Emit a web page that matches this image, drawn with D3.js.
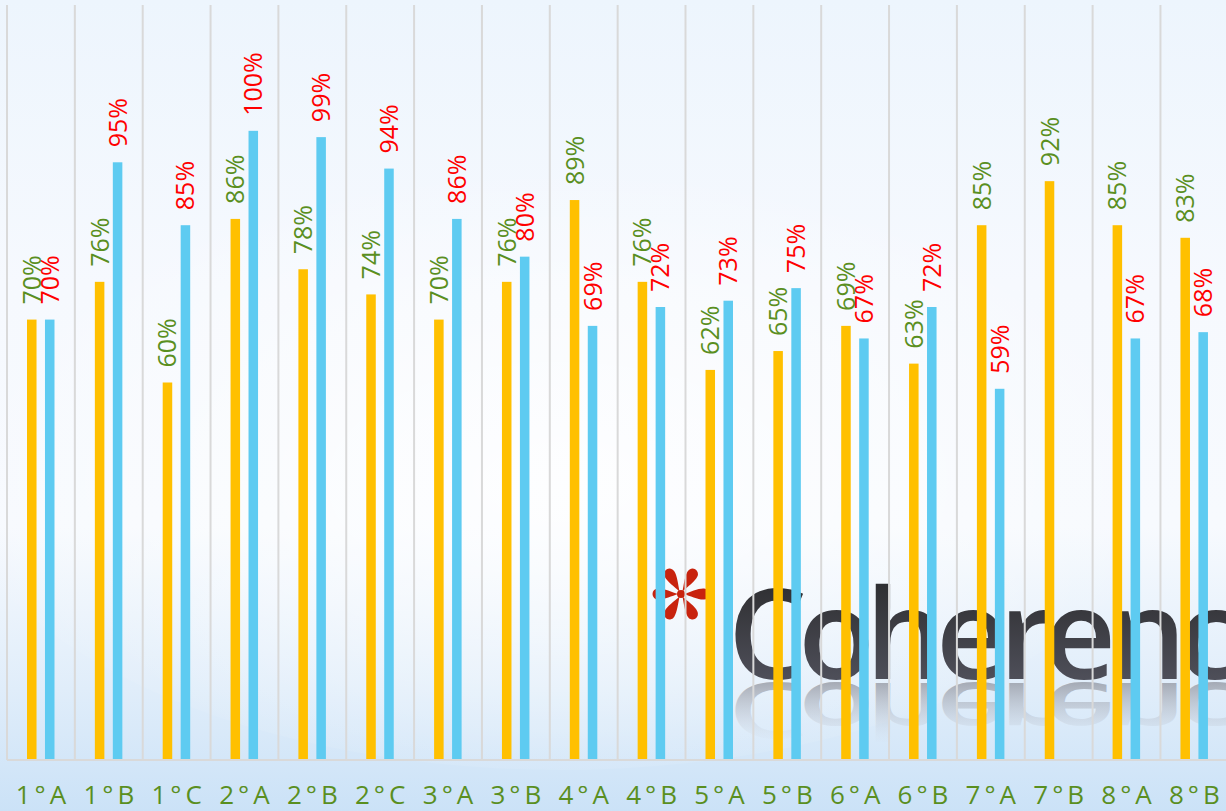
<!DOCTYPE html>
<html lang="en">
<head>
<meta charset="UTF-8">
<title>Bar chart</title>
<style>
  html, body { margin: 0; padding: 0; overflow: hidden; }
  svg { display: block; }
</style>
</head>
<body>
<svg id="chart" width="1226" height="811"></svg>
<script src="https://cdn.jsdelivr.net/npm/d3@7"></script>
<script>
// data
const categories = ['1°A', '1°B', '1°C', '2°A', '2°B', '2°C', '3°A', '3°B', '4°A',
                    '4°B', '5°A', '5°B', '6°A', '6°B', '7°A', '7°B', '8°A', '8°B'];
const seriesNames = ['s1', 's2'];
const s1Values = [70, 76, 60, 86, 78, 74, 70, 76, 89, 76, 62, 65, 69, 63, 85, 92, 85, 83];
const s2Values = [70, 95, 85, 100, 99, 94, 86, 80, 69, 72, 73, 75, 67, 72, 59, null, 67, 68];

const colors = { s1: '#ffc000', s2: '#5ecbf1' };
const labelColors = { s1: '#5a8f1f', s2: '#ff0000' };

const W = 1226, H = 811;
const svg = d3.select('#chart');
const defs = svg.append('defs');

// background
const bg = defs.append('linearGradient').attr('id', 'bg').attr('x1', 0).attr('y1', 0).attr('x2', 0).attr('y2', 1);
bg.append('stop').attr('offset', 0).attr('stop-color', '#edf5fd');
bg.append('stop').attr('offset', 0.35).attr('stop-color', '#f6f9fe');
bg.append('stop').attr('offset', 0.65).attr('stop-color', '#f7fafe');
bg.append('stop').attr('offset', 0.85).attr('stop-color', '#e0edfa');
bg.append('stop').attr('offset', 1).attr('stop-color', '#cbe2f7');
svg.append('rect').attr('width', W).attr('height', H).attr('fill', 'url(#bg)');

const glow = defs.append('radialGradient').attr('id', 'glow').attr('cx', 0.5).attr('cy', 0.55).attr('r', 0.5);
glow.append('stop').attr('offset', 0).attr('stop-color', '#ffffff').attr('stop-opacity', 0.8);
glow.append('stop').attr('offset', 1).attr('stop-color', '#ffffff').attr('stop-opacity', 0);
svg.append('ellipse').attr('cx', 560).attr('cy', 450).attr('rx', 620).attr('ry', 320).attr('fill', 'url(#glow)');

// watermark logo
const logo = svg.append('g');
const petal = 'M0,-3 C-2,-9 -6,-18 -5.5,-23 A5.5,5.5 0 0 1 5.5,-23 C6,-18 2,-9 0,-3 Z';
logo.append('g').attr('transform', 'translate(681,594)')
  .selectAll('path').data([30, 90, 150, 210, 270, 330]).join('path')
  .attr('d', petal).attr('transform', d => `rotate(${d})`).attr('fill', '#c8230e');
logo.append('circle').attr('cx', 681).attr('cy', 594).attr('r', 4).attr('fill', '#c8230e');

const tg = defs.append('linearGradient').attr('id', 'tg').attr('x1', 0).attr('y1', 0).attr('x2', 0).attr('y2', 1);
tg.append('stop').attr('offset', 0).attr('stop-color', '#222222');
tg.append('stop').attr('offset', 1).attr('stop-color', '#5a5b68');
// reflection gradient, in the flipped text's own coordinates (0 = baseline)
const rg = defs.append('linearGradient').attr('id', 'rg').attr('gradientUnits', 'userSpaceOnUse')
  .attr('x1', 0).attr('y1', 0).attr('x2', 0).attr('y2', -100);
rg.append('stop').attr('offset', 0).attr('stop-color', '#8c8f99').attr('stop-opacity', 0.7);
rg.append('stop').attr('offset', 0.5).attr('stop-color', '#a9adb8').attr('stop-opacity', 0.35);
rg.append('stop').attr('offset', 1).attr('stop-color', '#d0d6e0').attr('stop-opacity', 0);

logo.append('text').attr('x', 728).attr('y', 679)
  .attr('font-family', 'Open Sans').attr('font-weight', 600).attr('font-size', 125)
  .attr('letter-spacing', -9).attr('fill', 'url(#tg)').text('Coherence');
logo.append('text').attr('transform', 'translate(728,683) scale(1,-0.62)')
  .attr('font-family', 'Open Sans').attr('font-weight', 600).attr('font-size', 125)
  .attr('letter-spacing', -9).attr('fill', 'url(#rg)').text('Coherence');

// scales
const x = d3.scaleBand().domain(categories).range([7, 7 + 67.85 * categories.length]);
const xs = d3.scaleBand().domain(seriesNames).range([20, 47.5]).paddingInner(0.47);
const y = d3.scaleLinear().domain([0, 120]).range([760, 5]);

// grid lines at category boundaries
svg.append('g').selectAll('line').data(categories).join('line')
  .attr('x1', d => x(d)).attr('x2', d => x(d))
  .attr('y1', y(120)).attr('y2', y(0))
  .attr('stroke', '#d9d9d9').attr('stroke-width', 2);

// bars
const rows = categories.map((c, i) => ({ c, s1: s1Values[i], s2: s2Values[i] }));
const groups = svg.append('g').selectAll('g').data(rows).join('g')
  .attr('transform', d => `translate(${x(d.c)},0)`);

const items = groups.selectAll('g')
  .data(d => seriesNames.map(k => ({ k, v: d[k] })).filter(e => e.v != null))
  .join('g');

items.append('rect')
  .attr('x', d => xs(d.k)).attr('width', xs.bandwidth())
  .attr('y', d => y(d.v)).attr('height', d => y(0) - y(d.v))
  .attr('fill', d => colors[d.k]);

items.append('text')
  .attr('transform', d => `translate(${xs(d.k) + xs.bandwidth() / 2},${y(d.v) - 15}) rotate(-90)`)
  .attr('dy', '0.36em')
  .attr('font-family', 'Open Sans').attr('font-size', 25)
  .attr('fill', d => labelColors[d.k])
  .text(d => d.v + '%');

// x axis
const xAxis = svg.append('g').attr('transform', `translate(0,${y(0)})`)
  .call(d3.axisBottom(x).tickSize(0).tickPadding(0));
xAxis.select('.domain').attr('d', `M7,0H${W}`).attr('stroke', '#d9d9d9').attr('stroke-width', 2);
xAxis.selectAll('text')
  .attr('y', 44).attr('dy', 0).attr('dx', 2)
  .attr('font-family', 'Open Sans').attr('font-size', 26)
  .attr('letter-spacing', 4).attr('fill', '#5a8f1f');
</script>
</body>
</html>
